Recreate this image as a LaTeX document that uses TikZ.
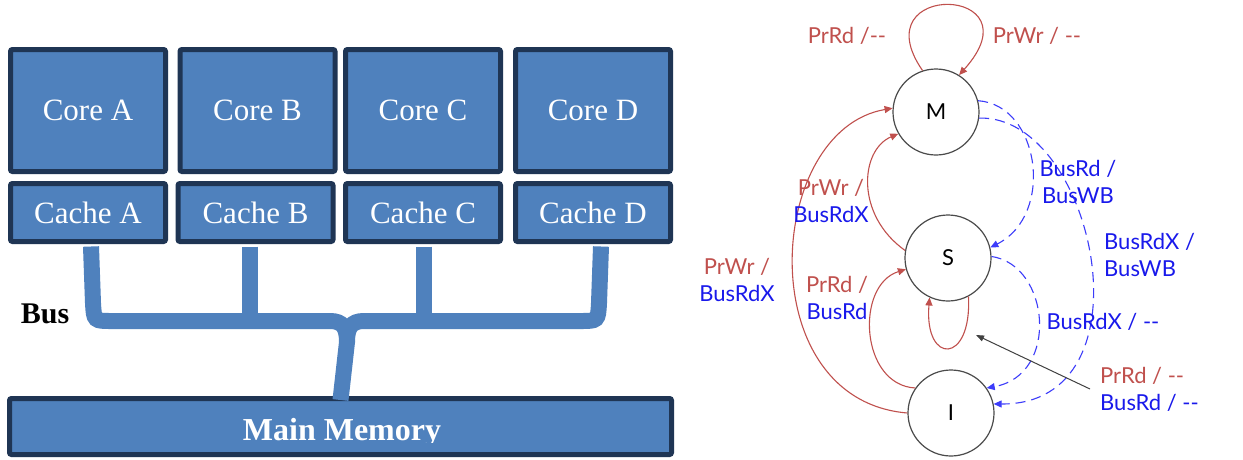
\documentclass[tikz,border=0pt]{standalone}
\usepackage{fontspec}
\setmainfont{Liberation Serif}
\newfontfamily\labelfont{Lato}
\usetikzlibrary{arrows.meta}

\definecolor{boxfill}{RGB}{79,129,189}
\definecolor{boxline}{RGB}{31,53,84}
\definecolor{labred}{RGB}{192,80,77}
\definecolor{labblue}{RGB}{25,25,235}
\definecolor{dashblue}{RGB}{60,60,250}
\definecolor{stategray}{RGB}{75,75,75}

\tikzset{
  unit/.style={draw=boxline, fill=boxfill, line width=5pt, rounded corners=2pt, inner sep=0pt,
    text=white, font=\fontsize{31}{36}\selectfont, minimum width=155pt},
  corebox/.style={unit, minimum height=122pt},
  cachebox/.style={unit, minimum height=58pt},
  busline/.style={draw=boxfill, line width=16pt},
  state/.style={circle, draw=stategray, line width=1.2pt, minimum size=86pt, inner sep=0pt,
    font=\labelfont\fontsize{22}{26}\selectfont},
  lbl/.style={inner sep=0pt, font=\labelfont\fontsize{22}{27}\selectfont},
  prarc/.style={draw=labred, line width=1.1pt, -{Triangle[length=8pt,width=7pt]}},
  busarc/.style={draw=dashblue, line width=1.1pt, dash pattern=on 10pt off 6pt,
    -{Triangle[length=8pt,width=7pt]}},
  pointer/.style={draw=black!75, line width=1pt, -{Triangle[length=8pt,width=6pt]}},
}

\begin{document}
\begin{tikzpicture}[x=1pt, y=-1pt]
\path[use as bounding box, fill=white] (0,0) rectangle (1243,459);

% cores with their private caches
\node[corebox] (coreA) at (88,110.5) {Core A};
\node[corebox] (coreB) at (257.5,110.5) {Core B};
\node[corebox] (coreC) at (423,110.5) {Core C};
\node[corebox] (coreD) at (593,110.5) {Core D};
\node[cachebox] (cacheA) at (88,212.5) {Cache A};
\node[cachebox] (cacheB) at (255.5,212.5) {Cache B};
\node[cachebox] (cacheC) at (423,212.5) {Cache C};
\node[cachebox] (cacheD) at (593,212.5) {Cache D};

% main memory
\node[unit, minimum width=662pt, minimum height=56pt] (mem) at (340.5,426.5) {};
\begin{scope}
  \clip (0,0) rectangle (1243,442);
  \node[anchor=base, text=white, font=\bfseries\fontsize{32}{36}\selectfont] (memText) at (342,440) {Main Memory};
\end{scope}

% shared bus
\draw[busline] ([xshift=3pt,yshift=-2.5pt]cacheA.south) -- (93,303) .. controls (94,321) .. (112,321)
  -- (330,321) .. controls (343,321) and (347,328) .. (347,342) -- ([yshift=-4pt]mem.north);
\draw[busline] ([xshift=8pt,yshift=-2.5pt]cacheD.south) -- (599,303) .. controls (598,321) .. (580,321)
  -- (364,321) .. controls (351,321) and (347,328) .. (347,342);
\draw[busline] ([xshift=-5.5pt,yshift=-2.5pt]cacheB.south) -- (250,321);
\draw[busline] ([xshift=1pt,yshift=-2.5pt]cacheC.south) -- (424,321);
\node[anchor=base, font=\bfseries\fontsize{30}{34}\selectfont] (busLabel) at (45,323) {Bus};

% MSI states
\node[state] (M) at (936,112) {M};
\node[state] (S) at (948,258) {S};
\node[state] (I) at (951,413) {I};

% processor side transitions
\draw[prarc] (M.108) .. controls (860,-20) and (1040,-15) .. (M.58);
\draw[prarc] (I.180) .. controls (750,400) and (765,130) .. (M.175);
\draw[prarc] (S.170) .. controls (855,215) and (860,150) .. (M.210);
\draw[prarc] (I.145) .. controls (860,385) and (855,285) .. (S.195);
\draw[prarc] (S.298) .. controls (972,365) and (924,365) .. (S.245);

% snooped bus transitions
\draw[busarc] (M.15) .. controls (1040,105) and (1055,215) .. (S.14);
\draw[busarc] (M.-8) .. controls (1095,115) and (1155,405) .. (I.12);
\draw[busarc] (S.2) .. controls (1050,265) and (1060,375) .. (I.35);

% labels
\node[lbl, text=labred] (lPrRdM) at (847,36) {PrRd /-{}-};
\node[lbl, text=labred] (lPrWrM) at (1037,36) {PrWr / -{}-};
\node[lbl, align=center] (lIM) at (737,280) {\textcolor{labred}{PrWr /}\\\textcolor{labblue}{BusRdX}};
\node[lbl, align=center] (lSM) at (831,201) {\textcolor{labred}{PrWr /}\\\textcolor{labblue}{BusRdX}};
\node[lbl, align=center] (lIS) at (837,298) {\textcolor{labred}{PrRd /}\\\textcolor{labblue}{BusRd}};
\node[lbl, align=center, text=labblue] (lMS) at (1078,182) {BusRd /\\BusWB};
\node[lbl, align=left, anchor=west, text=labblue] (lMI) at (1104,255) {BusRdX /\\BusWB};
\node[lbl, text=labblue] (lSI) at (1103,322) {BusRdX / -{}-};
\node[lbl, align=left, anchor=west] (lPrRdBus) at (1100,389) {\textcolor{labred}{PrRd / -{}-}\\\textcolor{labblue}{BusRd / -{}-}};

\coordinate (sLoopTip) at (976,335);
\draw[pointer] ([xshift=-10pt]lPrRdBus.west) -- (sLoopTip);
\end{tikzpicture}
\end{document}
